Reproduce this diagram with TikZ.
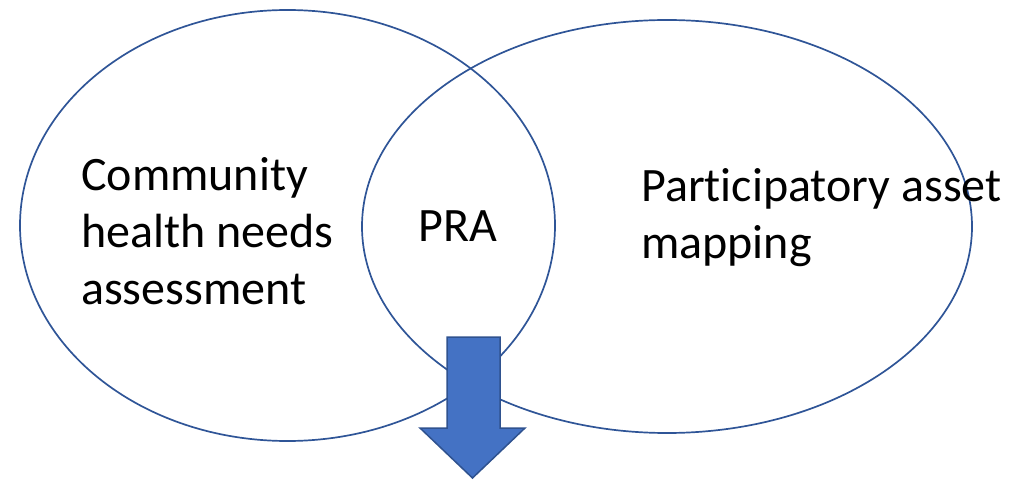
\documentclass[tikz,border=0pt]{standalone}
\usepackage{fontspec}
\setmainfont[Ligatures={NoCommon}]{Carlito}
\usetikzlibrary{shapes.geometric}
\definecolor{vennblue}{HTML}{2F5597}
\definecolor{arrowfill}{HTML}{4472C4}
\definecolor{arrowedge}{HTML}{2F528F}

\begin{document}
\begin{tikzpicture}[x=1pt,y=-1pt,
    venn/.style={draw=vennblue, line width=1.7pt, ellipse, inner sep=0pt},
    venntext/.style={font=\fontsize{48}{57}\selectfont, align=left, inner sep=0pt}]
    \useasboundingbox (0,0) rectangle (1015,481);
    \node[venn, minimum width=535pt, minimum height=431pt] (needs) at (287.5,225.5) {};
    \node[venn, minimum width=610pt, minimum height=413pt] (assets) at (667,226.5) {};
    \draw (81,231) node[venntext, anchor = west] (needstext) {Community\\health needs\\assessment};
    \draw (418,226) node[venntext, anchor = west] (pra) {PRA};
    \draw (641,218) node[venntext, anchor = west] (assettext) {Participatory asset\\mapping};
    \draw[fill=arrowfill, draw=arrowedge, line width=1.5pt] (447,337) -- (500,337) -- (500,428) -- (525,428)
        -- (472.5,478) -- (420,428) -- (447,428) -- cycle;
\end{tikzpicture}
\end{document}
